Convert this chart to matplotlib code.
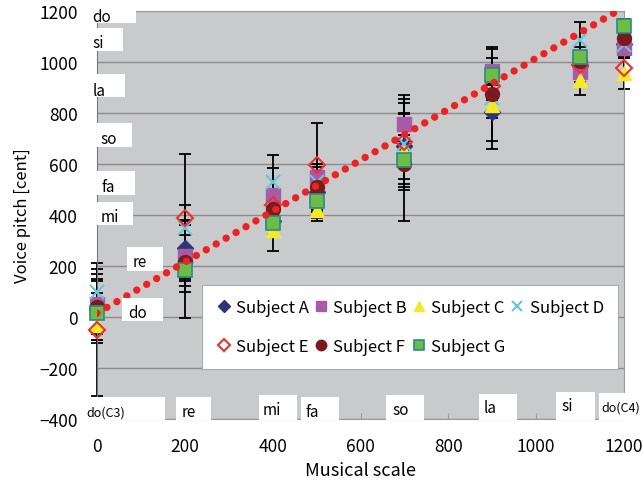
import numpy as np
import matplotlib
matplotlib.use('Agg')
import matplotlib.pyplot as plt
from matplotlib.patches import Rectangle

plt.rcParams['font.family'] = ['Noto Sans CJK JP', 'DejaVu Sans']

# musical scale positions (cent)
scale_x = [0, 200, 400, 500, 700, 900, 1100, 1200]

# mean voice pitch per subject (cent)
subj_a = [30, 270, 375, 490, 670, 805, 985, 1070]
subj_b = [50, 240, 480, 550, 755, 965, 960, 1055]
subj_c = [-30, 190, 340, 420, 650, 830, 930, 955]
subj_d = [100, 350, 530, 530, 680, 860, 1085, 1065]
subj_e = [-50, 390, 440, 595, 685, 905, 990, 975]
subj_f = [40, 215, 425, 510, 600, 875, 1005, 1095]
subj_g = [15, 185, 370, 455, 615, 950, 1020, 1140]

# standard deviations
err_a = [120, 170, 55, 80, 130, 145, 40, 30]
err_b = [140, 120, 105, 50, 40, 50, 40, 30]
err_c = [70, 40, 20, 30, 40, 50, 60, 60]
err_d = [70, 30, 107, 60, 160, 50, 70, 30]
err_e = [260, 250, 40, 165, 185, 50, 40, 40]
err_f = [100, 60, 40, 90, 90, 185, 40, 30]
err_g = [80, 190, 110, 80, 240, 100, 40, 30]

# ideal pitch reference line
ref_x = [0, 1185]
ref_y = [15, 1200]

y_notes = ['do', 'si', 'la', 'so', 'fa', 'mi', 're', 'do']
x_notes = ['do(C3)', 're', 'mi', 'fa', 'so', 'la', 'si', 'do(C4)']

W, H = 643, 481
fig = plt.figure(figsize=(W / 100, H / 100), dpi=100)
ax = fig.add_axes([97 / W, 1 - 420 / H, 527 / W, 408 / H])
ax.set_facecolor('#c9cacc')

series = [
    ('Subject A', subj_a, err_a, dict(marker='D', ms=8, mfc='#2b3577', mec='#2b3577')),
    ('Subject B', subj_b, err_b, dict(marker='s', ms=10.5, mfc='#a75aa6', mec='#a75aa6')),
    ('Subject C', subj_c, err_c, dict(marker='^', ms=10.5, mfc='#f5ea2a', mec='#f5ea2a')),
    ('Subject D', subj_d, err_d, dict(marker='x', ms=10, mec='#63c8dc', mew=1.5)),
    ('Subject E', subj_e, err_e, dict(marker='D', ms=8, mfc='none', mec='#ee3030', mew=1.5)),
    ('Subject F', subj_f, err_f, dict(marker='o', ms=10, mfc='#7b1a1d', mec='#7b1a1d')),
    ('Subject G', subj_g, err_g, dict(marker='s', ms=10, mfc='#6cbd45', mec='#2a8a8a', mew=1.2)),
]

for name, vals, errs, st in series:
    eb = ax.errorbar(scale_x, vals, yerr=errs, fmt='none', ecolor='black',
                     elinewidth=1.3, capsize=4, capthick=1.3, zorder=2)
    for art in eb.get_children():
        art.set_clip_on(False)

handles = []
for name, vals, errs, st in series:
    h, = ax.plot(scale_x, vals, linestyle='none', label=name, zorder=3,
                 clip_on=False, **st)
    handles.append(h)

ax.plot(ref_x, ref_y, color='#ee2222', lw=5.3, linestyle=(0, (0.01, 1.55)),
        dash_capstyle='round', zorder=4)

ax.set_xlim(0, 1200)
ax.set_ylim(-400, 1200)
ax.set_xticks(range(0, 1201, 200))
ax.set_yticks(range(-400, 1201, 200))
ax.yaxis.grid(True, color='#8c8c8c', lw=1)
ax.set_axisbelow(True)
ax.tick_params(axis='y', length=0, pad=14, labelsize=12.5)
ax.tick_params(axis='x', direction='in', length=4, color='#999999', pad=13, labelsize=12.5)
for s in ax.spines.values():
    s.set_color('#9a9a9a')
ax.spines['left'].set_color('#777777')
ax.set_xlabel('Musical scale', fontsize=13, labelpad=4)
ax.set_ylabel('Voice pitch [cent]', fontsize=12, labelpad=6)

# row-major legend order: A B C D / E F G
order = [0, 4, 1, 5, 2, 6, 3]
leg = ax.legend(handles=[handles[i] for i in order], ncol=4, loc='lower left',
                mode='expand', bbox_to_anchor=(0.199, 0.123, 0.79, 0.237),
                fontsize=12, frameon=True, fancybox=False, markerscale=0.75,
                handlelength=0.9, handletextpad=0.3, columnspacing=0.3,
                labelspacing=1.3, borderpad=0.85, borderaxespad=0,
                facecolor='white', framealpha=1)
leg.get_frame().set_edgecolor('#aaaaaa')
leg.get_frame().set_linewidth(0.8)
leg.set_zorder(6)

# white note-name boxes (pixel boxes: x0, y0, x1, y1, text x, text y)
y_boxes = [(91, 0, 136, 24, 92, 17), (91, 29, 123, 52, 92, 44),
           (91, 75, 125, 98, 93, 91), (97, 124, 132, 148, 100, 139),
           (97, 172, 135, 196, 102, 187), (97, 203, 133, 226, 101, 218),
           (127, 248, 163, 272, 133, 263), (122, 299, 163, 322, 128, 314)]
x_boxes = [(83, 398, 165, 421, 86, 413), (176, 398, 211, 421, 182, 413),
           (259, 396, 297, 421, 263, 411), (301, 398, 339, 421, 306, 413),
           (386, 396, 424, 421, 392, 411), (479, 395, 517, 421, 484, 409),
           (556, 393, 595, 421, 561, 407), (599, 394, 643, 421, 601, 408)]

for lab, b in zip(y_notes + x_notes, y_boxes + x_boxes):
    x0, y0, x1, y1, tx, ty = b
    fig.add_artist(Rectangle((x0 / W, 1 - y1 / H), (x1 - x0) / W, (y1 - y0) / H,
                             transform=fig.transFigure, facecolor='white',
                             edgecolor='none', zorder=5))
    fs = 9 if '(' in lab else 11
    fig.text(tx / W, 1 - ty / H, lab, fontsize=fs, ha='left', va='center', zorder=6)

fig.savefig('out.png', dpi=100)
